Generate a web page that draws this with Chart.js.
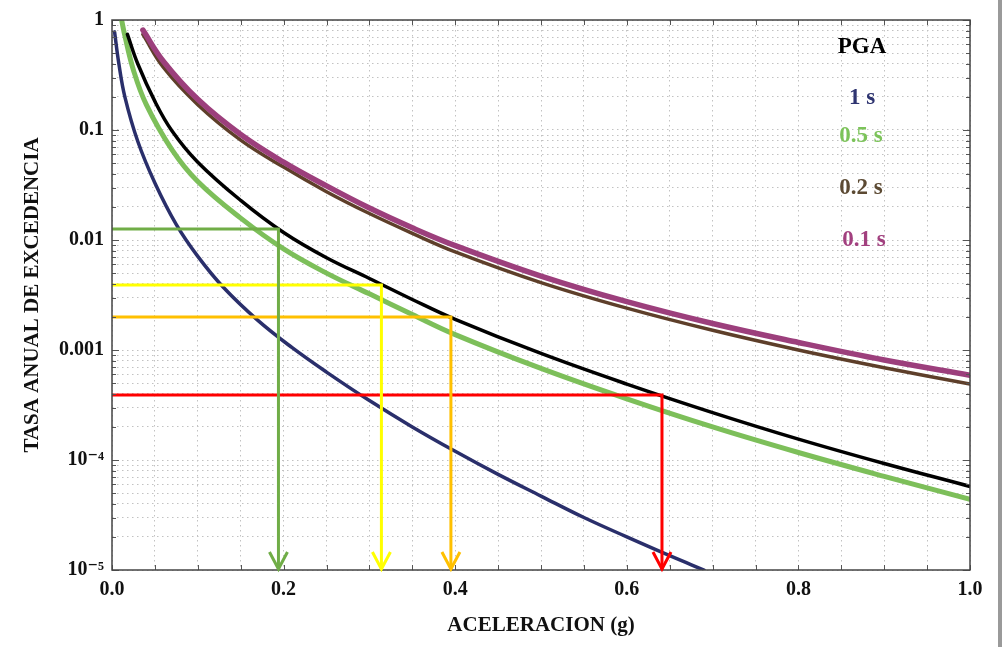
<!DOCTYPE html>
<html>
<head>
<meta charset="utf-8">
<script src="https://cdn.jsdelivr.net/npm/chart.js@4"></script>
<style>
  html, body { margin: 0; padding: 0; background: #fff; }
  #chart { display: block; }
</style>
</head>
<body>
<canvas id="chart" width="1002" height="647"></canvas>
<script>
// series names (legend order)
const seriesNames = ['PGA', '1 s', '0.5 s', '0.2 s', '0.1 s'];

// PGA (black)
const accelPGA = [0.018, 0.03, 0.05, 0.07, 0.1, 0.15, 0.2, 0.25, 0.3, 0.35, 0.4, 0.5, 0.6, 0.7, 0.8, 0.9, 1.0];
const ratePGA = [0.74, 0.40, 0.182, 0.098, 0.051, 0.0229, 0.0117, 0.0069, 0.00447, 0.00288, 0.0019, 9.3e-4, 4.9e-4, 2.7e-4, 1.55e-4, 9.3e-5, 5.75e-5];

// 1 s (blue)
const accel1s = [0.003, 0.008, 0.015, 0.03, 0.05, 0.075, 0.1, 0.13, 0.17, 0.21, 0.25, 0.3, 0.35, 0.4, 0.45, 0.5, 0.55, 0.6, 0.65, 0.69];
const rate1s = [0.78, 0.40, 0.20, 0.079, 0.033, 0.0138, 0.0071, 0.0037, 0.00186, 0.00105, 6.3e-4, 3.47e-4, 2.0e-4, 1.2e-4, 7.4e-5, 4.7e-5, 3.0e-5, 2.0e-5, 1.35e-5, 1.0e-5];

// 0.5 s (green)
const accel05s = [0.011, 0.015, 0.025, 0.04, 0.07, 0.1, 0.15, 0.2, 0.25, 0.3, 0.35, 0.4, 0.5, 0.6, 0.7, 0.8, 0.9, 1.0];
const rate05s = [1.02, 0.72, 0.35, 0.17, 0.066, 0.034, 0.0158, 0.0083, 0.0050, 0.00324, 0.0021, 0.00138, 6.8e-4, 3.6e-4, 2.0e-4, 1.17e-4, 7.1e-5, 4.4e-5];

// 0.2 s (brown)
const accel02s = [0.036, 0.06, 0.1, 0.15, 0.2, 0.25, 0.3, 0.35, 0.4, 0.5, 0.6, 0.7, 0.8, 0.9, 1.0];
const rate02s = [0.74, 0.37, 0.17, 0.081, 0.046, 0.0275, 0.0174, 0.0115, 0.0078, 0.0041, 0.0024, 0.00151, 0.0010, 6.9e-4, 4.9e-4];

// 0.1 s (purple)
const accel01s = [0.036, 0.06, 0.1, 0.15, 0.2, 0.25, 0.3, 0.35, 0.4, 0.5, 0.6, 0.7, 0.8, 0.9, 1.0];
const rate01s = [0.81, 0.42, 0.19, 0.091, 0.051, 0.031, 0.0195, 0.0129, 0.0089, 0.0047, 0.00275, 0.00174, 0.00117, 8.1e-4, 5.9e-4];

// reference readings drawn as arrows
const refRate = [0.0126, 0.0039, 0.0020, 3.9e-4];
const refAccel = [0.194, 0.314, 0.395, 0.641];
const refColors = ['#70ad47', '#ffff00', '#ffc000', '#ff0000'];

// axis ticks
const yDecades = [1, 0.1, 0.01, 0.001, 1e-4, 1e-5];
const yTickLabels = ['1', '0.1', '0.01', '0.001', '10\u207B\u2074', '10\u207B\u2075'];
const xMin = 0, xMax = 1, yMin = 1e-5, yMax = 1;

const seriesColors = ['#000000', '#2a2f6b', '#7dbf5a', '#5e3f2a', '#9c3f7c'];
const legendColors = ['#000000', '#2e3470', '#7cc35a', '#5c4a33', '#a2407f'];

const pts = (xs, ys) => xs.map((x, i) => ({ x: x, y: ys[i] }));

// grid positions: 1..9 per decade
const yGrid = [];
for (let e = -5; e <= 0; e++) {
  for (let m = 1; m <= 9; m++) {
    const v = m * Math.pow(10, e);
    if (v <= yMax * 1.0001) yGrid.push(v);
  }
}

function curve(label, data, color, width, order) {
  return {
    label, data, borderColor: color, borderWidth: width,
    pointRadius: 0, fill: false, tension: 0.4, borderCapStyle: 'round', borderJoinStyle: 'round', order
  };
}

const datasets = [
  curve(seriesNames[0], pts(accelPGA, ratePGA), seriesColors[0], 3.5, 3),
  curve(seriesNames[1], pts(accel1s, rate1s), seriesColors[1], 3.5, 3),
  curve(seriesNames[2], pts(accel05s, rate05s), seriesColors[2], 5, 4),
  curve(seriesNames[3], pts(accel02s, rate02s), seriesColors[3], 3.5, 5),
  curve(seriesNames[4], pts(accel01s, rate01s), seriesColors[4], 5.5, 4)
];

refRate.forEach((r, i) => {
  datasets.push({
    label: 'ref' + i,
    data: [{ x: xMin, y: r }, { x: refAccel[i], y: r }, { x: refAccel[i], y: yMin }],
    borderColor: refColors[i], borderWidth: 3, pointRadius: 0, tension: 0, order: 0
  });
});

const serif = '"Liberation Serif", "DejaVu Serif", serif';

const framePlugin = {
  id: 'frame',
  afterDraw(chart) {
    const { ctx, chartArea: a, scales } = chart;
    const xs = scales.x, ys = scales.y;
    ctx.save();
    // inward ticks
    ctx.strokeStyle = '#555';
    ctx.lineWidth = 1;
    ctx.beginPath();
    for (let v = xMin; v <= xMax + 1e-9; v += 0.05) {
      const px = Math.round(xs.getPixelForValue(v)) + 0.5;
      ctx.moveTo(px, a.bottom); ctx.lineTo(px, a.bottom - 5);
      ctx.moveTo(px, a.top); ctx.lineTo(px, a.top + 5);
    }
    yGrid.forEach(v => {
      const py = Math.round(ys.getPixelForValue(v)) + 0.5;
      const len = yDecades.includes(v) ? 7 : 4;
      ctx.moveTo(a.left, py); ctx.lineTo(a.left + len, py);
      ctx.moveTo(a.right, py); ctx.lineTo(a.right - len, py);
    });
    ctx.stroke();
    // frame
    ctx.strokeStyle = '#444';
    ctx.lineWidth = 1.5;
    ctx.strokeRect(a.left, a.top, a.right - a.left, a.bottom - a.top);
    // arrow heads
    ctx.lineWidth = 3;
    ctx.lineJoin = 'miter';
    refAccel.forEach((acc, i) => {
      const px = xs.getPixelForValue(acc);
      const py = ys.getPixelForValue(yMin) - 1;
      ctx.strokeStyle = refColors[i];
      ctx.beginPath();
      ctx.moveTo(px - 9, py - 17);
      ctx.lineTo(px, py);
      ctx.lineTo(px + 9, py - 17);
      ctx.stroke();
    });
    // legend text
    const legendY = [47, 98, 136, 188, 240];
    const legendX = [862, 862, 861, 861, 864];
    ctx.font = 'bold 23px ' + serif;
    ctx.textAlign = 'center';
    ctx.textBaseline = 'middle';
    seriesNames.forEach((n, i) => {
      ctx.fillStyle = legendColors[i];
      ctx.fillText(n, legendX[i], legendY[i]);
    });
    // outer edge of the picture
    ctx.fillStyle = '#9a9a9a';
    ctx.fillRect(998, 0, 4, 647);
    ctx.restore();
  }
};

new Chart(document.getElementById('chart'), {
  type: 'line',
  data: { datasets },
  options: {
    responsive: false,
    animation: false,
    layout: { padding: { top: 16, right: 32, left: 0, bottom: 0 } },
    plugins: { legend: { display: false }, tooltip: { enabled: false } },
    scales: {
      x: {
        type: 'linear', min: xMin, max: xMax,
        afterFit(s) { s.height = 77; },
        ticks: {
          stepSize: 0.05, autoSkip: false, maxRotation: 0, padding: 8,
          color: '#111', font: { family: serif, size: 20, weight: 'bold' },
          callback: (v) => Math.abs(v * 5 - Math.round(v * 5)) < 1e-6 ? Number(v).toFixed(1) : ''
        },
        grid: { color: '#c2c2c2', lineWidth: 1, drawTicks: false },
        border: { display: false, dash: [1.5, 3.5] },
        title: {
          display: true, text: 'ACELERACION (g)', color: '#111',
          font: { family: serif, size: 21, weight: 'bold' }, padding: { top: 2, bottom: 9 }
        }
      },
      y: {
        type: 'logarithmic', min: yMin, max: yMax,
        afterFit(s) { s.width = 112; },
        afterBuildTicks(s) { s.ticks = yGrid.map(v => ({ value: v })); },
        ticks: {
          autoSkip: false, padding: 8, color: '#111',
          font: { family: serif, size: 20, weight: 'bold' },
          callback: (v) => {
            const k = yDecades.findIndex(d => Math.abs(v - d) / d < 1e-6);
            return k >= 0 ? yTickLabels[k] : '';
          }
        },
        grid: { color: '#c2c2c2', lineWidth: 1, drawTicks: false },
        border: { display: false, dash: [1.5, 3.5] },
        title: {
          display: true, text: 'TASA ANUAL DE EXCEDENCIA', color: '#111',
          font: { family: serif, size: 21, weight: 'bold' }, padding: { top: 20, bottom: 0 }
        }
      }
    }
  },
  plugins: [framePlugin]
});
</script>
</body>
</html>
